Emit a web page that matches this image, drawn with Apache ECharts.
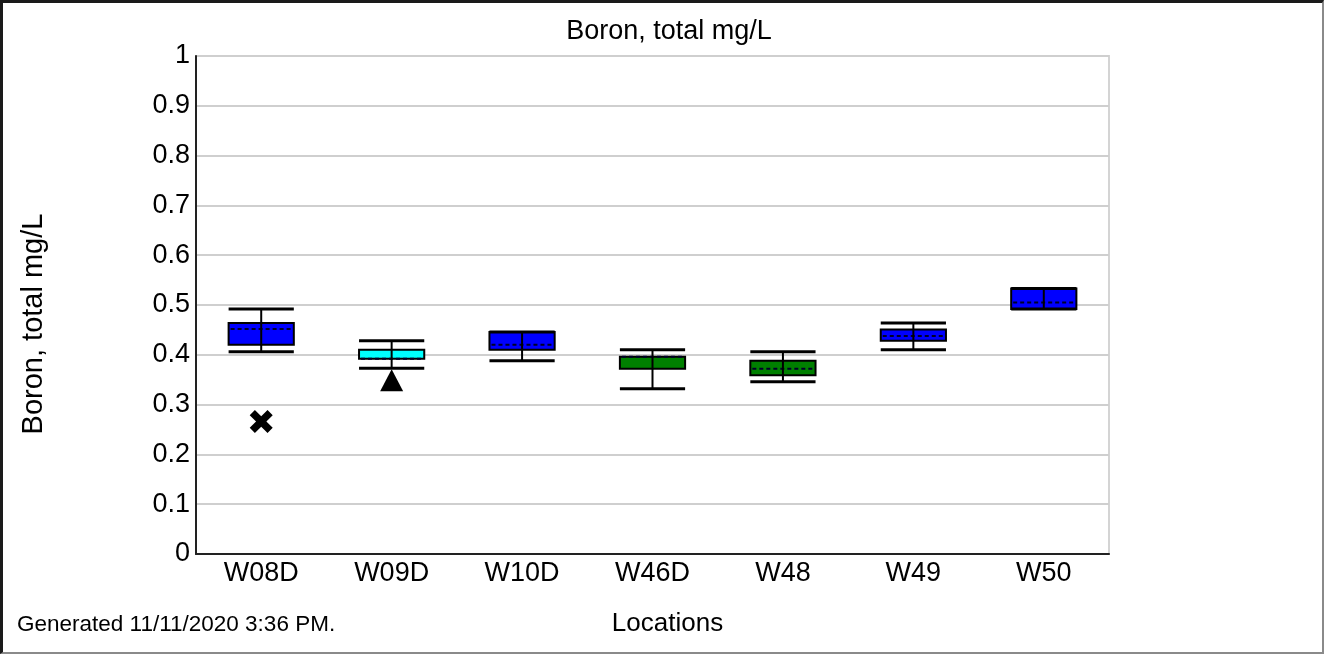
<!DOCTYPE html>
<html>
<head>
<meta charset="utf-8">
<script src="https://cdn.jsdelivr.net/npm/echarts@6/dist/echarts.min.js"></script>
<style>
  html, body { margin: 0; padding: 0; background: #fff; }
  #wrap { position: relative; width: 1326px; height: 655px; }
  #chart { position: absolute; left: 0; top: 0; width: 1326px; height: 655px; }
  #frame { position: absolute; left: 0; top: 0; width: 1324px; height: 654px; box-sizing: border-box;
           border-left: 3px solid #1a1a1a; border-top: 3px solid #1a1a1a;
           border-right: 2px solid #8a8a8a; border-bottom: 2px solid #8a8a8a; pointer-events: none; }
</style>
</head>
<body>
<div id="wrap"><div id="chart"></div><div id="frame"></div></div>
<script>
// ---- data ----
const categories   = ['W08D', 'W09D', 'W10D', 'W46D', 'W48', 'W49', 'W50'];
const lowWhisker   = [0.406, 0.373, 0.388, 0.332, 0.346, 0.410, 0.492];
const q1           = [0.420, 0.392, 0.410, 0.372, 0.359, 0.428, 0.492];
const median       = [0.452, 0.392, 0.420, 0.396, 0.372, 0.438, 0.505];
const q3           = [0.464, 0.410, 0.446, 0.396, 0.388, 0.451, 0.533];
const highWhisker  = [0.492, 0.428, 0.446, 0.410, 0.406, 0.464, 0.533];
const yTicks       = [0, 0.1, 0.2, 0.3, 0.4, 0.5, 0.6, 0.7, 0.8, 0.9, 1];
// outliers: [category, value]
const crossOutliers    = [['W08D', 0.266]];
const triangleOutliers = [['W09D', 0.349]];

// ---- styles ----
const boxColors = ['#0000ff', '#00ffff', '#0000ff', '#008000', '#008000', '#0000ff', '#0000ff'];
const FONT = "'Liberation Sans', Arial, sans-serif";

const boxData = categories.map((c, i) => [i, lowWhisker[i], q1[i], median[i], q3[i], highWhisker[i]]);

const chart = echarts.init(document.getElementById('chart'), null, { renderer: 'canvas' });

chart.setOption({
  animation: false,
  backgroundColor: '#ffffff',
  grid: { left: 196, right: 217, top: 56, bottom: 101, show: true, borderColor: '#d4d4d4', borderWidth: 2, backgroundColor: 'transparent' },
  graphic: [
    { type: 'text', x: 669, y: 18, style: { text: 'Boron, total mg/L', font: '27px ' + FONT, fill: '#000', textAlign: 'center', textVerticalAlign: 'top' } },
    { type: 'text', x: 17, y: 613, style: { text: 'Generated 11/11/2020 3:36 PM.', font: '22.5px ' + FONT, fill: '#000', textVerticalAlign: 'top' } }
  ],
  xAxis: {
    type: 'category',
    data: categories,
    boundaryGap: true,
    name: 'Locations',
    nameLocation: 'middle',
    nameGap: 57,
    nameTextStyle: { fontSize: 26, color: '#000', fontFamily: FONT, padding: [0, 0, 0, 30] },
    axisLine: { lineStyle: { color: '#222', width: 2 } },
    axisTick: { show: false },
    axisLabel: { fontSize: 27, color: '#000', fontFamily: FONT, margin: 6 },
    splitLine: { show: false }
  },
  yAxis: {
    type: 'value',
    min: 0, max: 1, interval: 0.1,
    name: 'Boron, total mg/L',
    nameLocation: 'middle',
    nameGap: 148,
    nameTextStyle: { fontSize: 29, color: '#000', fontFamily: FONT, padding: [0, 38, 0, 0] },
    axisLine: { show: true, lineStyle: { color: '#222', width: 2 } },
    axisTick: { show: false },
    axisLabel: {
      fontSize: 27, color: '#000', fontFamily: FONT, margin: 6,
      formatter: v => { const t = yTicks.find(k => Math.abs(k - v) < 1e-9); return String(t !== undefined ? t : v); }
    },
    splitLine: { show: true, lineStyle: { color: '#cfcfcf', width: 2 } }
  },
  series: [
    {
      type: 'custom',
      data: boxData,
      encode: { x: 0, y: [1, 2, 3, 4, 5] },
      z: 3,
      renderItem: function (params, api) {
        const idx = api.value(0);
        const pLow = api.coord([idx, api.value(1)]);
        const pQ1 = api.coord([idx, api.value(2)]);
        const pMed = api.coord([idx, api.value(3)]);
        const pQ3 = api.coord([idx, api.value(4)]);
        const pHigh = api.coord([idx, api.value(5)]);
        const bw = api.size([1, 0])[0] * 0.5;
        const cx = pLow[0];
        const x0 = cx - bw / 2, x1 = cx + bw / 2;
        const black = '#000';
        return {
          type: 'group',
          children: [
            { type: 'rect', shape: { x: x0, y: pQ3[1], width: bw, height: pQ1[1] - pQ3[1] },
              style: { fill: boxColors[idx], stroke: black, lineWidth: 2 } },
            { type: 'line', shape: { x1: x0 + 2, y1: pMed[1], x2: x1 - 2, y2: pMed[1] },
              style: { stroke: '#000028', lineWidth: 2, lineDash: [4, 3] } },
            { type: 'line', shape: { x1: cx, y1: pHigh[1], x2: cx, y2: pLow[1] },
              style: { stroke: black, lineWidth: 2 } },
            { type: 'line', shape: { x1: x0, y1: pHigh[1], x2: x1, y2: pHigh[1] },
              style: { stroke: black, lineWidth: 3 } },
            { type: 'line', shape: { x1: x0, y1: pLow[1], x2: x1, y2: pLow[1] },
              style: { stroke: black, lineWidth: 3 } }
          ]
        };
      }
    },
    {
      type: 'scatter',
      data: crossOutliers,
      symbol: 'path://M4.5,0 L10,5.5 L15.5,0 L20,4.5 L14.5,10 L20,15.5 L15.5,20 L10,14.5 L4.5,20 L0,15.5 L5.5,10 L0,4.5 Z',
      symbolSize: 23,
      itemStyle: { color: '#000', opacity: 1 },
      z: 4
    },
    {
      type: 'scatter',
      data: triangleOutliers,
      symbol: 'triangle',
      symbolSize: [23, 22],
      itemStyle: { color: '#000', opacity: 1 },
      z: 4
    }
  ]
});
</script>
</body>
</html>
